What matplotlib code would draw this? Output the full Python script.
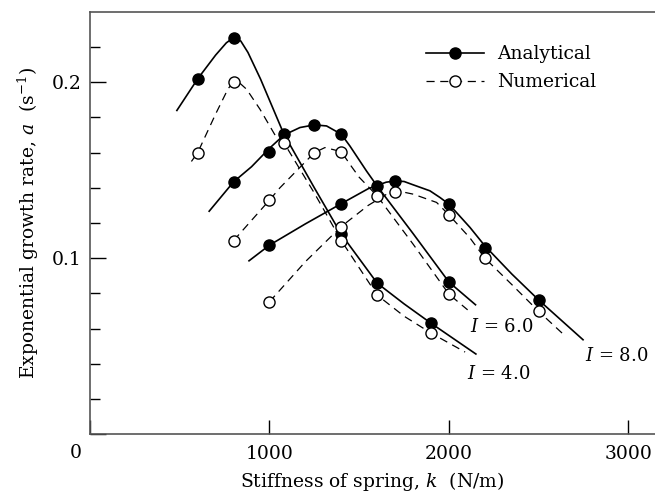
import matplotlib
matplotlib.use("Agg")
import matplotlib.pyplot as plt
from matplotlib.lines import Line2D

plt.rcParams['font.family'] = ['DejaVu Serif']
plt.rcParams['mathtext.fontset'] = 'dejavuserif'
plt.rcParams['font.size'] = 13.5

# marker values (k in N/m, a in 1/s)
k4_ana = [600, 800, 1080, 1400, 1600, 1900]
a4_ana = [0.202, 0.2254, 0.1706, 0.1136, 0.0858, 0.063]
k4_num = [600, 800, 1080, 1400, 1600, 1900]
a4_num = [0.160, 0.200, 0.1657, 0.110, 0.079, 0.0574]

k6_ana = [800, 1000, 1250, 1400, 1600, 2000]
a6_ana = [0.1434, 0.1604, 0.1756, 0.1705, 0.141, 0.0864]
k6_num = [800, 1000, 1250, 1400, 1600, 2000]
a6_num = [0.110, 0.133, 0.160, 0.1606, 0.1354, 0.0795]

k8_ana = [1000, 1400, 1700, 2000, 2200, 2500]
a8_ana = [0.1074, 0.131, 0.1439, 0.1307, 0.106, 0.0762]
k8_num = [1000, 1400, 1700, 2000, 2200, 2500]
a8_num = [0.0752, 0.118, 0.1377, 0.1246, 0.100, 0.0697]

# curves
c4_ana_k = [484, 600, 700, 760, 800, 840, 880, 950, 1080, 1250, 1400, 1600, 1750, 1900, 2150]
c4_ana_a = [0.184, 0.202, 0.2155, 0.2225, 0.2254, 0.2235, 0.2170, 0.2019, 0.1706, 0.140, 0.1136,
            0.0858, 0.0740, 0.063, 0.0455]
c4_num_k = [565, 600, 700, 770, 800, 835, 873, 947, 1031, 1080, 1250, 1400, 1600, 1750, 1900, 2090]
c4_num_a = [0.155, 0.160, 0.182, 0.1965, 0.200, 0.1995, 0.196, 0.1847, 0.170, 0.1657, 0.137, 0.110,
            0.079, 0.067, 0.0574, 0.0466]

c6_ana_k = [664, 800, 900, 1000, 1080, 1170, 1250, 1318, 1400, 1448, 1541, 1600, 1800, 2000, 2148]
c6_ana_a = [0.1267, 0.1434, 0.152, 0.1625, 0.170, 0.1743, 0.1758, 0.1752, 0.1705, 0.1638, 0.1495,
            0.141, 0.114, 0.0864, 0.0735]
c6_num_k = [800, 1000, 1058, 1250, 1309, 1400, 1448, 1500, 1600, 1800, 2000, 2104]
c6_num_a = [0.110, 0.133, 0.140, 0.160, 0.1629, 0.1606, 0.1534, 0.146, 0.1354, 0.108, 0.0795, 0.0706]

c8_ana_k = [886, 1000, 1200, 1400, 1550, 1650, 1700, 1750, 1801, 1894, 1950, 2000, 2117, 2200,
            2350, 2500, 2747]
c8_ana_a = [0.0985, 0.1074, 0.1195, 0.131, 0.1395, 0.1432, 0.1439, 0.1436, 0.1417, 0.1383, 0.1345,
            0.1307, 0.1175, 0.107, 0.091, 0.0762, 0.0536]
c8_num_k = [1000, 1200, 1400, 1550, 1650, 1700, 1750, 1801, 1931, 2000, 2117, 2200, 2350, 2500, 2646]
c8_num_a = [0.0752, 0.098, 0.118, 0.130, 0.1362, 0.1377, 0.1375, 0.1364, 0.1317, 0.1246, 0.1115,
            0.100, 0.085, 0.0697, 0.0559]

fig = plt.figure(figsize=(6.55, 4.95), dpi=100)
ax = fig.add_axes([90 / 655, 61 / 495, 565 / 655, 422 / 495])

dash = (6.5, 4.5)
for ck, ca in [(c4_ana_k, c4_ana_a), (c6_ana_k, c6_ana_a), (c8_ana_k, c8_ana_a)]:
    ax.plot(ck, ca, color='black', lw=1.2, zorder=2, solid_joinstyle='round')
for ck, ca in [(c4_num_k, c4_num_a), (c6_num_k, c6_num_a), (c8_num_k, c8_num_a)]:
    ax.plot(ck, ca, color='black', lw=0.9, dashes=dash, zorder=2)

for kk, aa in [(k4_ana, a4_ana), (k6_ana, a6_ana), (k8_ana, a8_ana)]:
    ax.plot(kk, aa, 'o', ms=8, mfc='black', mec='black', zorder=3)
for kk, aa in [(k4_num, a4_num), (k6_num, a6_num), (k8_num, a8_num)]:
    ax.plot(kk, aa, 'o', ms=8, mfc='white', mec='black', mew=1.0, zorder=4)

ax.text(2100, 0.034, r'$I$ = 4.0', fontsize=13, va='center')
ax.text(2117, 0.0608, r'$I$ = 6.0', fontsize=13, va='center')
ax.text(2758, 0.0443, r'$I$ = 8.0', fontsize=13, va='center')

h_ana = Line2D([], [], color='black', lw=1.2, marker='o', ms=8, mfc='black')
h_num = Line2D([], [], color='black', lw=0.9, dashes=dash, marker='o', ms=8,
               mfc='white', mec='black')
ax.legend([h_ana, h_num], ['Analytical', 'Numerical'], loc='upper left',
          bbox_to_anchor=(0.578, 0.943), frameon=False, handlelength=3.1,
          handletextpad=0.7, labelspacing=0.52, borderpad=0, fontsize=13.5)

ax.set_xlim(0, 3148)
ax.set_ylim(0, 0.24)
ax.set_xticks([0, 1000, 2000, 3000])
ax.set_xticklabels(['', '1000', '2000', '3000'])
ax.set_yticks([0, 0.1, 0.2])
ax.set_yticklabels(['', '0.1', '0.2'])
ax.set_yticks([0.02, 0.04, 0.06, 0.08, 0.12, 0.14, 0.16, 0.18, 0.22], minor=True)
ax.tick_params(axis='x', which='major', direction='in', length=10, width=1, pad=8, labelsize=13.5)
ax.tick_params(axis='y', which='major', direction='in', length=11.5, width=1, pad=6, labelsize=13.5)
ax.tick_params(axis='y', which='minor', direction='in', length=7, width=1)
ax.text(-0.025, -0.045, '0', transform=ax.transAxes, ha='center', va='center', fontsize=13.5)

ax.spines['right'].set_visible(False)
for s in ['left', 'bottom', 'top']:
    ax.spines[s].set_color('#555555')
    ax.spines[s].set_linewidth(1.2)

ax.set_xlabel(r'Stiffness of spring, $k$  (N/m)', fontsize=13.5, labelpad=5)
ax.set_ylabel(r'Exponential growth rate, $a$  (s$^{-1}$)', fontsize=13.5, labelpad=8)

fig.savefig('out.png', dpi=100)
